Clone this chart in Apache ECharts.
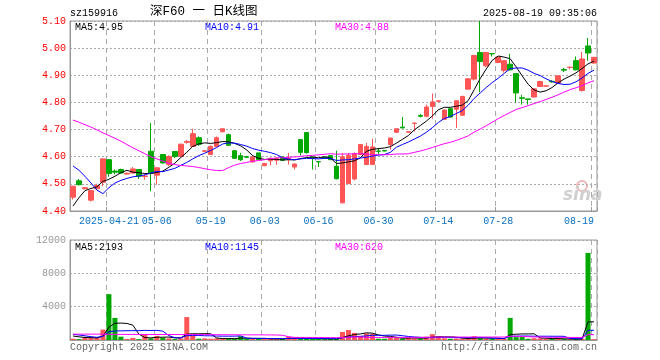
<!DOCTYPE html>
<html><head><meta charset="utf-8">
<script src="https://cdn.jsdelivr.net/npm/echarts@6/dist/echarts.min.js"></script>
<style>html,body{margin:0;padding:0;background:#fff}#c{width:660px;height:360px}</style>
</head><body><div id="c"></div>
<script>
const dates = ['2025-04-11','2025-04-14','2025-04-15','2025-04-16','2025-04-17','2025-04-18','2025-04-21','2025-04-22','2025-04-23','2025-04-24',
'2025-04-25','2025-04-28','2025-04-29','2025-04-30','2025-05-06','2025-05-07','2025-05-08','2025-05-09','2025-05-12','2025-05-13',
'2025-05-14','2025-05-15','2025-05-16','2025-05-19','2025-05-20','2025-05-21','2025-05-22','2025-05-23','2025-05-26','2025-05-27',
'2025-05-28','2025-05-29','2025-06-03','2025-06-04','2025-06-05','2025-06-06','2025-06-09','2025-06-10','2025-06-11','2025-06-12',
'2025-06-13','2025-06-16','2025-06-17','2025-06-18','2025-06-19','2025-06-20','2025-06-23','2025-06-24','2025-06-25','2025-06-26',
'2025-06-27','2025-06-30','2025-07-01','2025-07-02','2025-07-03','2025-07-04','2025-07-07','2025-07-08','2025-07-09','2025-07-10',
'2025-07-11','2025-07-14','2025-07-15','2025-07-16','2025-07-17','2025-07-18','2025-07-21','2025-07-22','2025-07-23','2025-07-24',
'2025-07-25','2025-07-28','2025-07-29','2025-07-30','2025-07-31','2025-08-01','2025-08-04','2025-08-05','2025-08-06','2025-08-07',
'2025-08-08','2025-08-11','2025-08-12','2025-08-13','2025-08-14','2025-08-15','2025-08-18','2025-08-19'];

const openP = [4.451,4.511,4.482,4.440,4.482,4.506,4.589,4.547,4.553,4.536,
4.540,4.553,4.527,4.620,4.532,4.608,4.571,4.619,4.601,4.653,
4.638,4.670,4.620,4.608,4.638,4.692,4.681,4.622,4.604,4.600,
4.581,4.614,4.567,4.585,4.587,4.599,4.589,4.562,4.663,4.689,
4.598,4.582,4.598,4.604,4.565,4.430,4.501,4.518,4.608,4.571,
4.571,4.621,4.623,4.645,4.690,4.709,4.690,4.723,4.752,4.749,
4.785,4.804,4.738,4.777,4.775,4.753,4.849,4.886,4.984,4.935,
4.980,4.947,4.918,4.941,4.906,4.817,4.813,4.820,4.859,4.860,
4.878,4.871,4.921,4.929,4.954,4.844,5.008,4.945];

const closeP = [4.491,4.497,4.486,4.475,4.494,4.592,4.538,4.543,4.540,4.539,
4.555,4.528,4.529,4.540,4.559,4.577,4.601,4.601,4.646,4.656,
4.685,4.646,4.622,4.638,4.670,4.703,4.642,4.594,4.589,4.598,
4.598,4.589,4.575,4.594,4.593,4.587,4.595,4.573,4.616,4.615,
4.594,4.581,4.594,4.589,4.519,4.600,4.605,4.611,4.645,4.638,
4.636,4.620,4.621,4.669,4.703,4.706,4.692,4.724,4.749,4.783,
4.802,4.806,4.772,4.746,4.806,4.822,4.887,4.973,4.951,4.984,
4.979,4.967,4.954,4.920,4.835,4.815,4.811,4.850,4.877,4.861,
4.876,4.898,4.919,4.930,4.920,4.960,4.982,4.966];

const lowP = [4.442,4.494,4.480,4.435,4.478,4.491,4.526,4.535,4.538,4.535,
4.538,4.518,4.515,4.473,4.497,4.575,4.565,4.595,4.600,4.648,
4.636,4.640,4.618,4.606,4.636,4.690,4.640,4.592,4.584,4.595,
4.578,4.589,4.565,4.568,4.570,4.585,4.571,4.553,4.604,4.611,
4.553,4.562,4.592,4.588,4.516,4.428,4.500,4.513,4.606,4.570,
4.570,4.608,4.620,4.626,4.688,4.705,4.690,4.693,4.745,4.745,
4.740,4.800,4.736,4.745,4.706,4.750,4.847,4.881,4.837,4.930,
4.969,4.945,4.910,4.918,4.800,4.792,4.792,4.818,4.857,4.859,
4.872,4.869,4.912,4.922,4.918,4.840,4.954,4.942];

const highP = [4.493,4.518,4.488,4.478,4.500,4.594,4.590,4.553,4.556,4.542,
4.562,4.555,4.535,4.724,4.562,4.610,4.605,4.621,4.648,4.662,
4.703,4.675,4.623,4.642,4.675,4.703,4.685,4.622,4.614,4.603,
4.605,4.614,4.575,4.597,4.598,4.600,4.614,4.575,4.663,4.689,
4.600,4.582,4.599,4.606,4.622,4.614,4.614,4.616,4.646,4.651,
4.666,4.632,4.623,4.670,4.704,4.746,4.694,4.725,4.758,4.792,
4.833,4.806,4.774,4.778,4.808,4.825,4.889,4.975,5.100,4.985,
4.980,4.970,4.956,4.979,4.908,4.828,4.813,4.852,4.880,4.862,
4.882,4.900,4.927,4.930,4.969,4.986,5.037,4.968];

const ma5 = [4.418,4.449,4.475,4.483,4.489,4.509,4.517,4.528,4.541,4.550,
4.543,4.541,4.538,4.538,4.542,4.547,4.561,4.576,4.597,4.616,
4.638,4.647,4.651,4.649,4.652,4.656,4.655,4.649,4.640,4.625,
4.604,4.594,4.590,4.591,4.590,4.588,4.589,4.588,4.593,4.597,
4.599,4.596,4.600,4.595,4.575,4.577,4.581,4.585,4.596,4.620,
4.627,4.630,4.632,4.637,4.650,4.664,4.678,4.699,4.715,4.731,
4.750,4.773,4.782,4.782,4.786,4.790,4.807,4.847,4.888,4.923,
4.955,4.971,4.967,4.961,4.931,4.898,4.867,4.846,4.838,4.843,
4.855,4.872,4.886,4.897,4.909,4.925,4.942,4.952];

const ma10 = [4.566,4.550,4.528,4.503,4.477,4.464,4.486,4.503,4.513,4.520,
4.526,4.529,4.533,4.540,4.546,4.545,4.551,4.557,4.568,4.579,
4.592,4.604,4.613,4.623,4.634,4.647,4.651,4.650,4.645,4.639,
4.630,4.624,4.620,4.615,4.608,4.596,4.591,4.589,4.592,4.594,
4.593,4.592,4.594,4.594,4.586,4.588,4.589,4.592,4.595,4.598,
4.602,4.606,4.608,4.616,4.635,4.645,4.654,4.665,4.676,4.690,
4.707,4.726,4.741,4.748,4.759,4.770,4.790,4.815,4.835,4.855,
4.873,4.889,4.907,4.924,4.927,4.927,4.919,4.907,4.899,4.887,
4.877,4.870,4.866,4.867,4.876,4.890,4.907,4.919];

const ma30 = [4.735,4.727,4.718,4.709,4.699,4.688,4.678,4.668,4.657,4.645,
4.633,4.622,4.611,4.600,4.592,4.584,4.576,4.571,4.568,4.566,
4.564,4.560,4.556,4.552,4.549,4.549,4.560,4.569,4.575,4.579,
4.583,4.586,4.589,4.593,4.596,4.596,4.598,4.599,4.601,4.604,
4.605,4.607,4.609,4.611,4.609,4.610,4.610,4.611,4.611,4.610,
4.608,4.607,4.607,4.608,4.610,4.610,4.611,4.616,4.621,4.627,
4.634,4.641,4.648,4.653,4.660,4.668,4.677,4.691,4.702,4.714,
4.727,4.740,4.752,4.763,4.774,4.781,4.788,4.796,4.803,4.811,
4.819,4.828,4.838,4.847,4.854,4.862,4.872,4.880];

const volume = [160,100,300,300,350,1250,5500,2650,400,120,
250,100,600,200,500,280,200,100,200,2750,
500,150,200,150,200,180,150,150,450,150,
120,120,150,120,150,120,400,300,150,200,
120,150,100,120,150,960,1200,850,500,800,
750,150,150,350,250,150,300,200,150,400,
700,450,200,150,180,150,200,450,200,150,
150,150,150,2650,350,350,150,220,200,150,
120,150,100,100,100,150,10450,100];

const volMa5 = [480,380,300,280,242,460,1540,2010,2030,1984,
1784,704,294,254,330,336,356,256,256,706,
750,740,760,750,240,176,176,166,226,216,
204,198,198,132,132,132,188,218,224,234,
234,184,144,138,128,296,506,656,732,862,
820,610,470,440,330,210,240,250,210,240,
350,380,380,380,336,226,176,226,236,230,
230,220,160,650,690,730,730,744,254,214,
168,168,144,124,114,120,2180,2180];

const volMa10 = [680,600,500,400,320,450,1000,1080,1100,1113,
1122,1122,1152,1142,1157,1060,530,275,255,518,
543,548,508,503,473,463,458,463,488,228,
190,187,182,179,174,168,193,208,178,183,
183,186,181,181,181,265,345,400,435,495,
558,558,563,586,596,515,425,360,325,285,
280,310,315,295,288,288,278,303,308,283,
228,198,193,443,460,480,475,452,452,452,
449,449,444,189,164,144,1174,1162];

const volMa30 = [700,700,700,700,700,700,680,680,670,670,
670,670,665,665,660,660,660,655,655,650,
650,645,645,640,640,635,630,625,622,620,
618,619,614,608,601,564,394,315,307,310,
305,307,290,288,276,299,332,357,367,302,
310,310,309,315,317,316,321,323,313,321,
340,351,353,354,355,356,349,354,356,354,
355,355,357,441,448,428,393,372,362,340,
319,319,317,309,304,304,642,639];

const tickDates = ['2025-04-21','2025-05-06','2025-05-19','2025-06-03','2025-06-16','2025-06-30','2025-07-14','2025-07-28','2025-08-19'];
const tickLabels = ['2025-04-21','05-06','05-19','06-03','06-16','06-30','07-14','07-28','08-19'];
const priceTicks = {min: 4.4, max: 5.1, step: 0.1};
const volTicks = {min: 0, max: 12000, step: 4000};

const MONO = 'Liberation Mono, DejaVu Sans Mono, monospace';
const RED = '#ff5555', GREEN = '#00a800';
const tickSet = new Set(tickDates);
const showTick = (i, v) => tickSet.has(v);
const gridLine = {show: true, interval: showTick, lineStyle: {color: '#aaa', type: [5, 4], width: 1}};

const chart = echarts.init(document.getElementById('c'));
const txt = (x, y, text, fill, opts) => Object.assign({
  type: 'text', x: x, y: y,
  style: Object.assign({text: text, fill: fill, font: '10px ' + MONO, textVerticalAlign: 'middle', verticalAlign: 'middle'}, opts || {})
});

chart.setOption({
  animation: false,
  backgroundColor: '#fff',
  grid: [
    {left: 70, right: 63, top: 21, height: 190, show: true, borderColor: '#999', borderWidth: 1},
    {left: 70, right: 63, top: 240, height: 100, show: true, borderColor: '#999', borderWidth: 1}
  ],
  xAxis: [
    {type: 'category', gridIndex: 0, data: dates, boundaryGap: true,
     axisLine: {lineStyle: {color: '#999'}},
     axisTick: {show: true, inside: true, length: 4, interval: showTick, lineStyle: {color: '#999'}},
     axisLabel: {interval: showTick, formatter: v => tickLabels[tickDates.indexOf(v)], color: '#0a70c0',
       fontFamily: MONO, fontSize: 10, margin: 5, alignMaxLabel: 'right'},
     splitLine: gridLine},
    {type: 'category', gridIndex: 1, data: dates, boundaryGap: true,
     axisLine: {lineStyle: {color: '#999'}},
     axisTick: {show: false},
     axisLabel: {show: false},
     splitLine: gridLine}
  ],
  yAxis: [
    {type: 'value', gridIndex: 0, min: priceTicks.min, max: priceTicks.max, interval: priceTicks.step,
     axisLine: {show: true, lineStyle: {color: '#999'}}, axisTick: {show: false},
     axisLabel: {formatter: v => v.toFixed(2), color: '#ff0000', fontFamily: MONO, fontSize: 10, margin: 4},
     splitLine: {show: true, lineStyle: {color: '#aaa', type: [2, 2]}}},
    {type: 'value', gridIndex: 1, min: volTicks.min, max: volTicks.max, interval: volTicks.step,
     axisLine: {show: true, lineStyle: {color: '#999'}}, axisTick: {show: false},
     axisLabel: {formatter: v => v === 0 ? '' : String(v), color: '#999', fontFamily: MONO, fontSize: 10, margin: 4},
     splitLine: {show: true, lineStyle: {color: '#aaa', type: [2, 2]}}}
  ],
  series: [
    {type: 'candlestick', xAxisIndex: 0, yAxisIndex: 0, barWidth: 5,
     data: dates.map((d, i) => [openP[i], closeP[i], lowP[i], highP[i]]),
     itemStyle: {color: RED, color0: GREEN, borderColor: RED, borderColor0: GREEN, borderColorDoji: RED, borderWidth: 1}},
    {type: 'line', xAxisIndex: 0, yAxisIndex: 0, data: ma5, symbol: 'none', lineStyle: {color: '#000', width: 1}, z: 5},
    {type: 'line', xAxisIndex: 0, yAxisIndex: 0, data: ma10, symbol: 'none', lineStyle: {color: '#0000ff', width: 1}, z: 5},
    {type: 'line', xAxisIndex: 0, yAxisIndex: 0, data: ma30, symbol: 'none', lineStyle: {color: '#ff00ff', width: 1}, z: 5},
    {type: 'bar', xAxisIndex: 1, yAxisIndex: 1, barWidth: 5,
     data: volume.map((v, i) => ({value: v, itemStyle: {color: closeP[i] >= openP[i] ? RED : GREEN}}))},
    {type: 'line', xAxisIndex: 1, yAxisIndex: 1, data: volMa5, symbol: 'none', lineStyle: {color: '#000', width: 1}, z: 5},
    {type: 'line', xAxisIndex: 1, yAxisIndex: 1, data: volMa10, symbol: 'none', lineStyle: {color: '#0000ff', width: 1}, z: 5},
    {type: 'line', xAxisIndex: 1, yAxisIndex: 1, data: volMa30, symbol: 'none', lineStyle: {color: '#ff00ff', width: 1}, z: 5}
  ],
  graphic: [
    txt(70, 13, 'sz159916', '#000'),
    txt(150, 12, '深F60 一 日K线图', '#000', {font: '12.5px Liberation Mono, Noto Sans CJK SC'}),
    txt(597, 13, '2025-08-19 09:35:06', '#000', {textAlign: 'right', align: 'right'}),
    txt(75, 27, 'MA5:4.95', '#000'),
    txt(205, 27, 'MA10:4.91', '#0000ff'),
    txt(335, 27, 'MA30:4.88', '#ff00ff'),
    txt(75, 247, 'MA5:2193', '#000'),
    txt(205, 247, 'MA10:1145', '#0000ff'),
    txt(335, 247, 'MA30:620', '#ff00ff'),
    txt(70, 347, 'Copyright 2025 SINA.COM', '#666'),
    txt(597, 347, 'http://finance.sina.com.cn', '#666', {textAlign: 'right', align: 'right'}),
    {type: 'circle', shape: {cx: 582, cy: 186, r: 5}, style: {fill: 'none', stroke: '#f3b5b5', lineWidth: 2}},
    txt(563, 196, 'sina', '#d0d0d0', {font: 'italic bold 17px DejaVu Sans'})
  ]
});
</script>
</body></html>
